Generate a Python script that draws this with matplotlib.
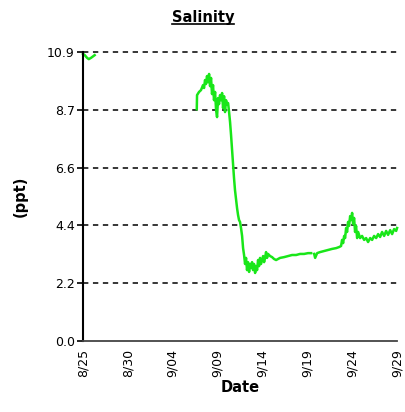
import numpy as np
import matplotlib
matplotlib.use("Agg")
import matplotlib.pyplot as plt
from matplotlib.lines import Line2D

# days since 8/25 and salinity (ppt); NaN marks gaps in the record
days = [0.0, 0.2, 0.45, 0.65, 0.9, 1.1, 1.3, np.nan,
        12.68, 12.71, 12.93, 13.15, 13.38, 13.49, 13.60, 13.71, 13.82, 13.94,
        14.05, 14.16, 14.27, 14.38, 14.49, 14.60, 14.72, 14.83, 14.94, 15.05,
        15.16, 15.27, 15.38, 15.50, 15.61, 15.72, 15.83, 15.94, 16.05, 16.17,
        16.28, 16.39, 16.50, 16.61, 16.72, 16.83, 16.94, 17.06, 17.17, 17.28,
        17.39, 17.50, 17.61, 17.73, 17.84, 17.95, 18.06, 18.17, 18.28, 18.39,
        18.51, 18.62, 18.73, 18.84, 18.95, 19.06, 19.18, 19.29, 19.40, 19.51,
        19.62, 19.73, 19.84, 19.96, 20.07, 20.18, 20.29, 20.40, 20.51, 20.62,
        20.85, 21.07, 21.29, 21.52, 21.74, 21.96, 22.41, 22.85, 23.30, 23.75,
        24.19, 24.64, 25.08, 25.42, np.nan,
        25.76, 25.87, 26.09, 26.42, 26.87, 27.31, 27.76, 28.21, 28.54, 28.76,
        28.87, 28.99, 29.10, 29.21, 29.32, 29.43, 29.54, 29.65, 29.77, 29.88,
        29.99, 30.10, 30.21, 30.32, 30.43, 30.55, 30.66, 30.88, 31.10, 31.33,
        31.55, 31.77, 32.00, 32.22, 32.44, 32.67, 32.89, 33.11, 33.33, 33.56,
        33.78, 34.00, 34.23, 34.45, 34.67, 34.90, 35.0]
salinity = [10.85, 10.8, 10.7, 10.65, 10.7, 10.75, 10.8, np.nan,
            8.76, 9.29, 9.41, 9.48, 9.67, 9.56, 9.86, 9.71, 10.01, 9.78,
            10.09, 9.63, 9.94, 9.33, 9.67, 9.10, 9.41, 8.73, 8.46, 9.18,
            8.95, 9.29, 9.10, 9.37, 8.80, 9.25, 8.65, 9.10, 8.95, 8.99,
            8.65, 8.27, 7.78, 7.22, 6.65, 6.16, 5.70, 5.33, 5.02, 4.76,
            4.57, 4.50, 4.27, 3.97, 3.51, 3.25, 2.91, 3.14, 2.68, 2.98,
            2.61, 2.91, 2.76, 2.98, 2.68, 2.91, 2.57, 2.83, 2.68, 3.06,
            2.83, 3.14, 2.91, 3.06, 3.21, 2.98, 3.14, 3.36, 3.14, 3.29,
            3.21, 3.17, 3.10, 3.06, 3.10, 3.14, 3.17, 3.21, 3.25, 3.25,
            3.29, 3.29, 3.32, 3.32, np.nan,
            3.29, 3.14, 3.32, 3.36, 3.40, 3.44, 3.48, 3.51, 3.55, 3.59,
            3.82, 3.70, 3.97, 3.89, 4.27, 4.12, 4.50, 4.35, 4.72, 4.57,
            4.84, 4.42, 4.65, 4.12, 4.35, 3.89, 4.12, 3.89, 3.97, 3.82,
            3.89, 3.74, 3.89, 3.82, 3.97, 3.89, 4.04, 3.93, 4.12, 3.97,
            4.16, 4.01, 4.19, 4.04, 4.23, 4.16, 4.27]

y_max = 10.92
y_ticks = [0.0, 2.184, 4.368, 6.552, 8.736, 10.92]
y_labels = ["0.0", "2.2", "4.4", "6.6", "8.7", "10.9"]
x_labels = ["8/25", "8/30", "9/04", "9/09", "9/14", "9/19", "9/24", "9/29"]

fig = plt.figure(figsize=(4.06, 4.12), dpi=100)
ax = fig.add_axes([0.2044, 0.1723, 0.7736, 0.7015])

ax.plot(days, salinity, color="#19e619", linewidth=1.8, clip_on=False)

ax.set_xlim(0, 35)
ax.set_ylim(0, y_max)
ax.set_yticks(y_ticks)
ax.set_yticklabels(y_labels, fontsize=9)
ax.set_xticks(np.arange(len(x_labels)) * 5)
ax.set_xticklabels(x_labels, rotation=90, fontsize=9)
ax.tick_params(axis="y", length=4, width=1.2, color="black", pad=2)
ax.tick_params(axis="x", length=0, pad=6)

for v in y_ticks[1:]:
    ax.axhline(v, color="black", linestyle=(0, (3.5, 3)), linewidth=1.1,
               zorder=0, clip_on=False)

for s in ["top", "right"]:
    ax.spines[s].set_visible(False)
ax.spines["left"].set_linewidth(1.5)
ax.spines["bottom"].set_linewidth(1.3)
ax.spines["bottom"].set_color("#444444")

ax.set_xlabel("Date", fontsize=10.5, fontweight="bold", labelpad=2)
ax.set_ylabel("(ppt)", fontsize=10.5, fontweight="bold", labelpad=14)

title = fig.text(0.5, 0.957, "Salinity", ha="center", va="center",
                 fontsize=10.5, fontweight="bold")
fig.canvas.draw()
bb = title.get_window_extent().transformed(fig.transFigure.inverted())
fig.add_artist(Line2D([bb.x0, bb.x1], [bb.y0 + 0.002, bb.y0 + 0.002],
                      color="black", linewidth=1.2, transform=fig.transFigure))

fig.savefig("out.png", dpi=100)
